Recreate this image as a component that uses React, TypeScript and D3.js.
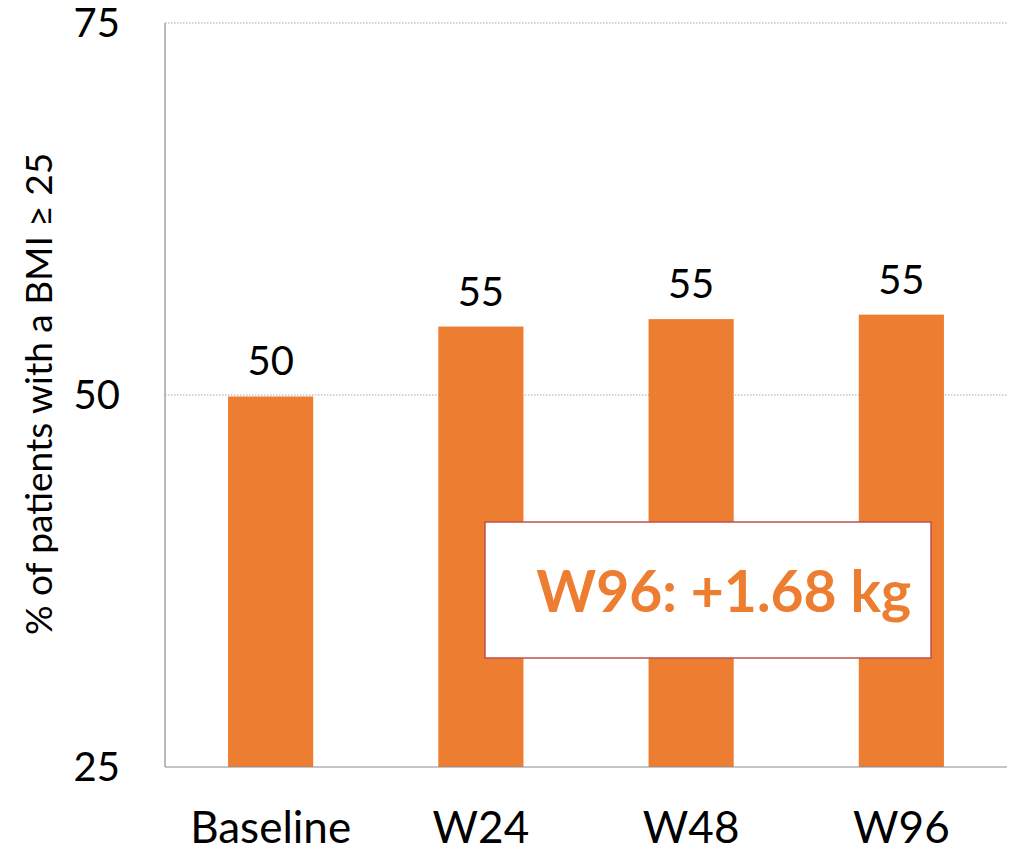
import React from "react";
import * as d3 from "d3";

// Share of patients with BMI >= 25 at each visit
const categories = ["Baseline", "W24", "W48", "W96"];
const values = [49.9, 54.6, 55.1, 55.4];
const yTicks = [25, 50, 75];
const annotation = "W96: +1.68 kg";
const yTitle = "% of patients with a BMI \u2265 25";

const W = 1015;
const H = 848;
const margin = { top: 23, right: 8, bottom: 81, left: 165 };
const FONT = "Lato, 'Open Sans', sans-serif";
const ORANGE = "#ED7D31";

export default function App() {
  const innerW = W - margin.left - margin.right;
  const innerH = H - margin.top - margin.bottom;

  const x = d3.scaleBand<string>().domain(categories).range([0, innerW]).paddingInner(0.595).paddingOuter(0.3);
  const y = d3.scaleLinear().domain([25, 75]).range([innerH, 0]);

  return (
    <svg width={W} height={H} style={{ position: "absolute", left: 0, top: 0, background: "#fff" }} fontFamily={FONT}>
      <g transform={`translate(${margin.left},${margin.top})`}>
        {/* dotted gridlines */}
        {yTicks.filter((t) => t !== 25).map((t) => (
          <line key={t} x1={0} x2={innerW} y1={y(t)} y2={y(t)} stroke="#a6a6a6" strokeWidth={1} strokeDasharray="1.5 1.5" />
        ))}
        {/* bars */}
        {categories.map((c, i) => (
          <rect key={c} x={x(c)} y={y(values[i])} width={x.bandwidth()} height={innerH - y(values[i])} fill={ORANGE} />
        ))}
        {/* value labels */}
        {categories.map((c, i) => (
          <text key={c} x={(x(c) as number) + x.bandwidth() / 2} y={y(values[i]) - 21} textAnchor="middle" fontSize={40} fill="#000">
            {Math.round(values[i])}
          </text>
        ))}
        {/* axes */}
        <line x1={0} x2={0} y1={0} y2={innerH} stroke="#8c8c8c" strokeWidth={1.2} />
        <line x1={0} x2={innerW} y1={innerH} y2={innerH} stroke="#8c8c8c" strokeWidth={1.2} />
        {yTicks.map((t) => (
          <text key={t} x={-45} y={y(t)} dy="0.36em" textAnchor="end" fontSize={40} fill="#000">
            {t}
          </text>
        ))}
        {categories.map((c) => (
          <text key={c} x={(x(c) as number) + x.bandwidth() / 2} y={innerH + 76} textAnchor="middle" fontSize={44} fill="#000">
            {c}
          </text>
        ))}
        {/* annotation box */}
        <rect x={485 - margin.left} y={522 - margin.top} width={446} height={136} fill="#fff" stroke="#c0504d" strokeWidth={1.5} />
        <text x={911 - margin.left} y={612 - margin.top} textAnchor="end" fontSize={57} fontWeight="bold" fill={ORANGE}>
          {annotation}
        </text>
      </g>
      <text transform={`translate(52,${394}) rotate(-90)`} textAnchor="middle" fontSize={37} fill="#000">
        {yTitle}
      </text>
    </svg>
  );
}
